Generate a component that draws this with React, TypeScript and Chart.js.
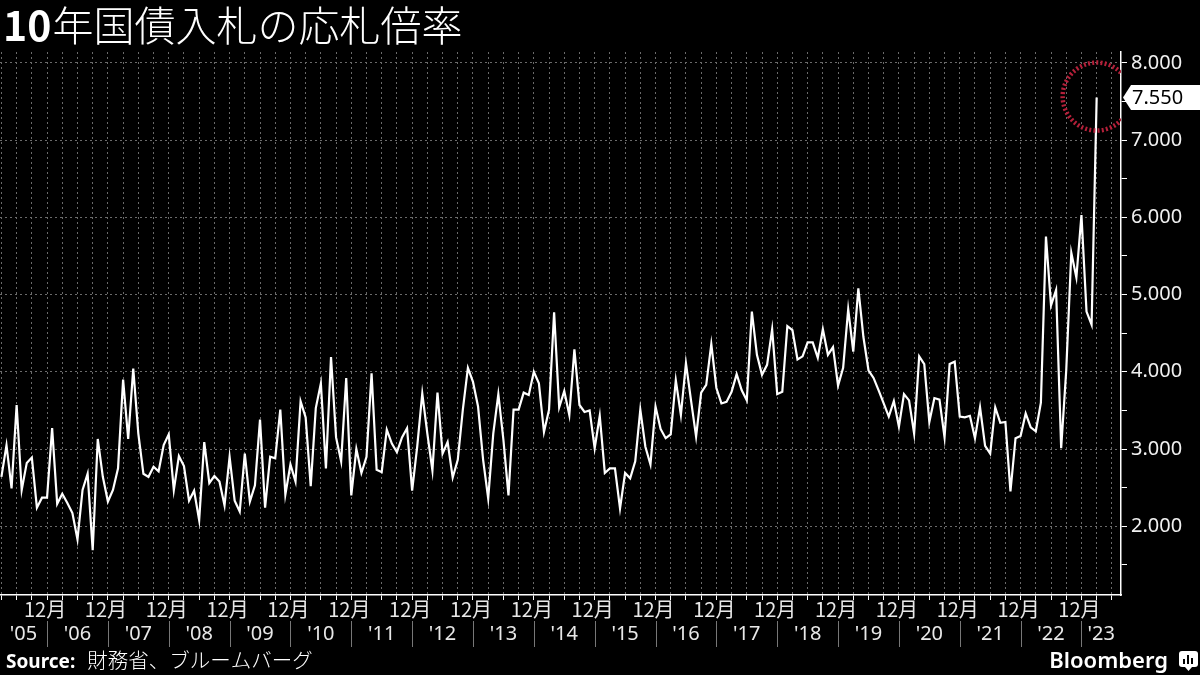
import React, { useEffect, useRef } from "react";
import { Chart, registerables } from "chart.js";

Chart.register(...registerables);

// 10-year JGB auction bid-to-cover ratios (monthly, from March 2005)
const bids2005 = [2.64, 3.05, 2.49, 3.57, 2.47, 2.82, 2.89, 2.24, 2.37, 2.37];
const bids2006 = [3.27, 2.29, 2.42, 2.3, 2.17, 1.83, 2.47, 2.68, 1.69, 3.13, 2.64, 2.32];
const bids2007 = [2.47, 2.75, 3.9, 3.13, 4.04, 3.2, 2.68, 2.64, 2.77, 2.71, 3.05, 3.19];
const bids2008 = [2.47, 2.91, 2.78, 2.33, 2.46, 2.08, 3.09, 2.56, 2.65, 2.58, 2.27, 2.9];
const bids2009 = [2.33, 2.19, 2.94, 2.32, 2.53, 3.38, 2.24, 2.9, 2.88, 3.51, 2.41, 2.8];
const bids2010 = [2.58, 3.62, 3.41, 2.52, 3.53, 3.85, 2.75, 4.19, 3.15, 2.84, 3.92, 2.4];
const bids2011 = [3.0, 2.69, 2.9, 3.98, 2.73, 2.7, 3.25, 3.07, 2.96, 3.15, 3.27, 2.46];
const bids2012 = [3.03, 3.72, 3.2, 2.72, 3.73, 2.94, 3.09, 2.63, 2.86, 3.51, 4.05, 3.87];
const bids2013 = [3.55, 2.86, 2.36, 3.2, 3.71, 3.12, 2.4, 3.51, 3.51, 3.73, 3.7, 4.0];
const bids2014 = [3.85, 3.22, 3.51, 4.77, 3.54, 3.75, 3.44, 4.29, 3.57, 3.48, 3.5, 3.01];
const bids2015 = [3.43, 2.69, 2.75, 2.75, 2.23, 2.69, 2.62, 2.84, 3.51, 3.03, 2.8, 3.55];
const bids2016 = [3.26, 3.14, 3.19, 3.89, 3.44, 4.11, 3.63, 3.16, 3.73, 3.83, 4.36, 3.79];
const bids2017 = [3.59, 3.61, 3.74, 3.97, 3.76, 3.63, 4.78, 4.22, 3.96, 4.09, 4.55, 3.71];
const bids2018 = [3.74, 4.59, 4.54, 4.16, 4.2, 4.38, 4.38, 4.18, 4.55, 4.22, 4.32, 3.82];
const bids2019 = [4.05, 4.81, 4.26, 5.08, 4.45, 4.02, 3.92, 3.76, 3.59, 3.42, 3.62, 3.29];
const bids2020 = [3.71, 3.63, 3.2, 4.2, 4.1, 3.35, 3.66, 3.64, 3.15, 4.1, 4.13, 3.42];
const bids2021 = [3.41, 3.43, 3.14, 3.54, 3.04, 2.94, 3.54, 3.34, 3.35, 2.45, 3.14, 3.17];
const bids2022 = [3.46, 3.28, 3.23, 3.6, 5.75, 4.86, 5.06, 3.01, 4.02, 5.54, 5.22, 6.03];
const bids2023 = [4.78, 4.61, 7.55];

const yearLabels = ["'05", "'06", "'07", "'08", "'09", "'10", "'11", "'12", "'13", "'14", "'15", "'16", "'17", "'18", "'19", "'20", "'21", "'22", "'23"];
const monthLabel = "12月";
const yTickValues = [1.5, 2, 2.5, 3, 3.5, 4, 4.5, 5, 5.5, 6, 6.5, 7, 7.5, 8];
const lastValueLabel = "7.550";
const titleBold = "10";
const titleRest = "年国債入札の応札倍率";
const sourceBold = "Source:";
const sourceRest = "財務省、ブルームバーグ";
const brand = "Bloomberg";

const yearSeries = [bids2005, bids2006, bids2007, bids2008, bids2009, bids2010, bids2011, bids2012, bids2013, bids2014, bids2015, bids2016, bids2017, bids2018, bids2019, bids2020, bids2021, bids2022, bids2023];
const values: number[] = ([] as number[]).concat(...yearSeries);
// index of first December (data starts in March 2005)
const firstDecIndex = bids2005.length - 1;

const SANS = '"Noto Sans", "Noto Sans CJK JP", sans-serif';
const CJK = '"Noto Sans CJK JP", "Noto Sans", sans-serif';

export default function App() {
  const ref = useRef<HTMLCanvasElement | null>(null);

  useEffect(() => {
    if (!ref.current) return;
    const points = values.map((v, i) => ({ x: i, y: v }));

    const decor = {
      id: "decor",
      beforeDraw(chart: any) {
        const ctx = chart.ctx;
        ctx.save();
        ctx.fillStyle = "#000";
        ctx.fillRect(0, 0, chart.width, chart.height);
        ctx.restore();
      },
      afterDraw(chart: any) {
        const ctx = chart.ctx;
        const xs = chart.scales.x;
        const ys = chart.scales.y;
        const area = chart.chartArea;
        ctx.save();

        // title
        ctx.fillStyle = "#fff";
        ctx.textBaseline = "alphabetic";
        ctx.textAlign = "left";
        ctx.font = `bold 41px ${CJK}`;
        ctx.fillText(titleBold, 3, 41);
        const w10 = ctx.measureText(titleBold).width;
        ctx.font = `300 41px ${CJK}`;
        ctx.fillText(titleRest, 3 + w10 + 1, 41);

        // x axis labels
        ctx.textAlign = "center";
        ctx.textBaseline = "middle";
        const decPx: number[] = [];
        for (let i = firstDecIndex; i < values.length; i += 12) decPx.push(xs.getPixelForValue(i));
        ctx.fillStyle = "#e8e8e8";
        ctx.font = `20px ${CJK}`;
        decPx.forEach((px) => ctx.fillText(monthLabel, px - 2, 609));
        ctx.strokeStyle = "#777";
        ctx.lineWidth = 1;
        decPx.forEach((px) => {
          ctx.beginPath();
          ctx.moveTo(Math.round(px) + 0.5, 621);
          ctx.lineTo(Math.round(px) + 0.5, 647);
          ctx.stroke();
        });
        ctx.font = `20px ${SANS}`;
        yearLabels.forEach((lab, k) => {
          const l = k === 0 ? area.left : decPx[k - 1];
          const r = k < decPx.length ? decPx[k] : area.right;
          ctx.fillText(lab, (l + r) / 2, 634);
        });

        // last value label
        const lastY = ys.getPixelForValue(values[values.length - 1]);
        const bx = area.right + 2;
        ctx.fillStyle = "#fff";
        ctx.beginPath();
        ctx.moveTo(bx, lastY);
        ctx.lineTo(bx + 8, lastY - 12.5);
        ctx.lineTo(chart.width, lastY - 12.5);
        ctx.lineTo(chart.width, lastY + 12.5);
        ctx.lineTo(bx + 8, lastY + 12.5);
        ctx.closePath();
        ctx.fill();
        ctx.fillStyle = "#000";
        ctx.textAlign = "left";
        ctx.font = `20px ${SANS}`;
        ctx.fillText(lastValueLabel, area.right + 11, lastY + 1);

        // highlight circle
        const lastX = xs.getPixelForValue(values.length - 1);
        ctx.save();
        ctx.beginPath();
        ctx.rect(area.left, 0, area.right - area.left, area.bottom);
        ctx.clip();
        ctx.strokeStyle = "#b5203a";
        ctx.lineWidth = 4.5;
        ctx.setLineDash([2, 2.2]);
        ctx.beginPath();
        ctx.arc(lastX, lastY - 1, 34, 0, Math.PI * 2);
        ctx.stroke();
        ctx.restore();

        // footer
        ctx.fillStyle = "#fff";
        ctx.textBaseline = "alphabetic";
        ctx.textAlign = "left";
        ctx.font = `bold 19px ${SANS}`;
        ctx.fillText(sourceBold, 6, 668);
        const ws = ctx.measureText(sourceBold).width;
        ctx.font = `300 20.5px ${CJK}`;
        ctx.fillText(sourceRest, 6 + ws + 12, 668);

        // brand
        ctx.textAlign = "right";
        ctx.font = `600 22px ${SANS}`;
        ctx.fillText(brand, 1168, 668);
        ctx.fillStyle = "#fff";
        ctx.beginPath();
        ctx.roundRect(1179, 651, 19, 16, 3);
        ctx.fill();
        ctx.beginPath();
        ctx.moveTo(1185, 667);
        ctx.lineTo(1188.5, 671);
        ctx.lineTo(1192, 667);
        ctx.fill();
        ctx.fillStyle = "#000";
        ctx.fillRect(1183, 659, 2, 5);
        ctx.fillRect(1187, 655, 2, 9);
        ctx.fillRect(1191, 658, 2, 6);
        ctx.restore();
      },
    };

    const chart = new Chart(ref.current, {
      type: "line",
      data: {
        datasets: [
          {
            data: points,
            borderColor: "#ffffff",
            borderWidth: 2.2,
            pointRadius: 0,
            tension: 0,
            fill: false,
          },
        ],
      },
      options: {
        animation: false,
        responsive: false,
        devicePixelRatio: 1,
        layout: { padding: { top: 52, left: 0, right: 0, bottom: 0 } },
        plugins: { legend: { display: false }, tooltip: { enabled: false }, title: { display: false } },
        scales: {
          x: {
            type: "linear",
            position: "bottom",
            min: -0.28,
            max: 220.8,
            afterBuildTicks: (scale: any) => {
              const t = [];
              for (let i = 0; i <= values.length + 2; i += 3) t.push({ value: i });
              scale.ticks = t;
            },
            afterFit: (scale: any) => {
              scale.height = 80;
            },
            ticks: { display: false },
            grid: {
              color: "#6a6a6a",
              lineWidth: 1,
              drawTicks: true,
              tickLength: 5,
              tickColor: "#ffffff",
              tickWidth: 1,
              tickBorderDash: [],
            },
            border: { display: true, color: "#ffffff", width: 1.5, dash: [2, 3] },
          },
          y: {
            type: "linear",
            position: "right",
            min: 1.11,
            max: 8.14,
            afterBuildTicks: (scale: any) => {
              scale.ticks = yTickValues.map((v) => ({ value: v }));
            },
            afterFit: (scale: any) => {
              scale.width = 79;
            },
            ticks: {
              color: "#f0f0f0",
              padding: 4,
              font: { family: "Noto Sans", size: 20 },
              callback: (v: any) => (Number.isInteger(v) ? Number(v).toFixed(3) : ""),
            },
            grid: {
              color: (c: any) => (c.tick && Number.isInteger(c.tick.value) ? "#6a6a6a" : "rgba(0,0,0,0)"),
              lineWidth: 1,
              drawTicks: true,
              tickLength: 6,
              tickColor: "#ffffff",
              tickWidth: 1,
              tickBorderDash: [],
            },
            border: { display: true, color: "#ffffff", width: 1.5, dash: [2, 3] },
          },
        },
      },
      plugins: [decor],
    } as any);

    return () => chart.destroy();
  }, []);

  return (
    <div style={{ position: "fixed", left: 0, top: 0, width: 1200, height: 675, background: "#000" }}>
      <canvas ref={ref} width={1200} height={675} style={{ width: 1200, height: 675, display: "block" }} />
    </div>
  );
}
